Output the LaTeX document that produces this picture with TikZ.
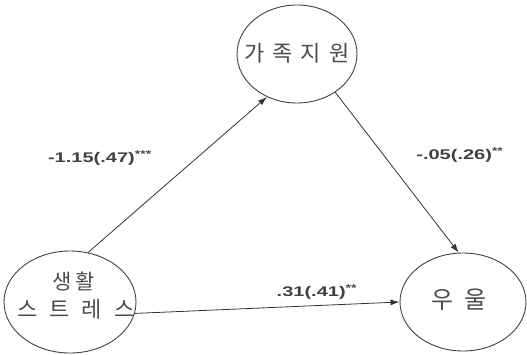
\documentclass[tikz,border=0pt]{standalone}
\usepackage{fontspec}
\setmainfont{Liberation Sans}
\newfontfamily\kr{Noto Sans CJK KR}
\usetikzlibrary{arrows.meta,shapes.geometric}
\begin{document}
\begin{tikzpicture}[x=1pt,y=-1pt,
  var/.style={draw=black!75, line width=0.9pt, ellipse, inner sep=0pt},
  path/.style={draw=black!80, line width=0.8pt, -{Latex[length=9pt,width=6pt]}},
  coef/.style={font=\bfseries\fontsize{14}{16}\selectfont, text=black!75, inner sep=0pt},
  kor/.style={text=black!70, inner sep=0pt}]
\useasboundingbox (0,0) rectangle (527,354);
\node[var, minimum width=120pt, minimum height=98pt] (fam) at (297,54) {};
\node[kor, font=\kr\fontsize{22}{26}\selectfont] (famt) at (297,53) {가\hspace{8pt}족\hspace{8pt}지\hspace{8pt}원};
\node[var, minimum width=132pt, minimum height=102pt] (str) at (70,302) {};
\node[kor, font=\kr\fontsize{21}{26}\selectfont] (strt1) at (74,282) {생\hspace{4pt}활};
\node[kor, font=\kr\fontsize{22}{26}\selectfont] (strt2) at (76,309) {스\hspace{12pt}트\hspace{12pt}레\hspace{12pt}스};
\node[var, minimum width=126pt, minimum height=98pt] (dep) at (463,302) {};
\node[kor, font=\kr\fontsize{24}{28}\selectfont] (dept) at (459,300) {우\hspace{11pt}울};
\draw[path] (str.70) -- (fam.235);
\draw[path] (fam.-45) -- (dep.95);
\draw[path] (str.-10) -- (dep.west);
\node[coef] (c1) at (100,158) {\scalebox{1.43}[1]{-1.15(.47)\textsuperscript{***}}};
\node[coef] (c2) at (460,155) {\scalebox{1.43}[1]{-.05(.26)\textsuperscript{**}}};
\node[coef] (c3) at (317,292) {\scalebox{1.43}[1]{.31(.41)\textsuperscript{**}}};
\end{tikzpicture}
\end{document}
